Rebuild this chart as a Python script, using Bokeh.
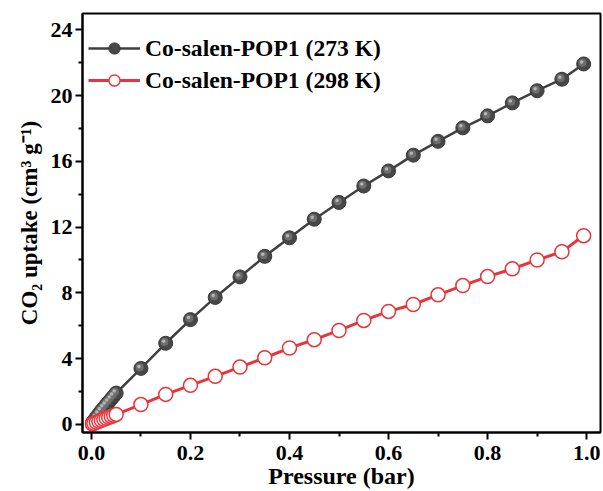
from bokeh.plotting import figure
from bokeh.models import FixedTicker, NumeralTickFormatter, Range1d, Legend, LegendItem
from bokeh.embed import file_html
from bokeh.resources import INLINE

# Data
p273 = [0.002, 0.005, 0.01, 0.015, 0.02, 0.025, 0.03, 0.035, 0.04, 0.045, 0.05,
        0.10, 0.15, 0.20, 0.25, 0.30, 0.35, 0.40, 0.45, 0.50, 0.55, 0.60, 0.65,
        0.70, 0.75, 0.80, 0.85, 0.90, 0.95, 0.994]
u273 = [0.08, 0.22, 0.42, 0.62, 0.82, 1.0, 1.18, 1.36, 1.54, 1.72, 1.9,
        3.4, 4.93, 6.37, 7.72, 8.97, 10.22, 11.35, 12.48, 13.5, 14.5, 15.42, 16.38,
        17.22, 18.04, 18.77, 19.56, 20.3, 21.0, 21.93]
p298 = [0.002, 0.005, 0.01, 0.015, 0.02, 0.025, 0.03, 0.035, 0.04, 0.045, 0.05,
        0.10, 0.15, 0.20, 0.25, 0.30, 0.35, 0.40, 0.45, 0.50, 0.55, 0.60, 0.65,
        0.70, 0.75, 0.80, 0.85, 0.90, 0.95, 0.994]
u298 = [0.02, 0.06, 0.12, 0.18, 0.24, 0.3, 0.36, 0.42, 0.48, 0.54, 0.6,
        1.2, 1.82, 2.37, 2.92, 3.48, 4.05, 4.64, 5.15, 5.71, 6.32, 6.87, 7.29,
        7.88, 8.44, 8.99, 9.46, 10.0, 10.5, 11.48]
labels = ["Co-salen-POP1 (273 K)", "Co-salen-POP1 (298 K)"]
x_ticks = [0.0, 0.2, 0.4, 0.6, 0.8, 1.0]
x_minor = [0.1, 0.3, 0.5, 0.7, 0.9]
y_ticks = [0, 4, 8, 12, 16, 20, 24]
y_minor = [2, 6, 10, 14, 18, 22]

FONT = "Liberation Serif"

p = figure(width=603, height=491, output_backend="svg", toolbar_location=None,
           x_range=Range1d(-0.018, 1.028), y_range=Range1d(-0.5, 25.0),
           min_border_left=82, min_border_right=3, min_border_top=13, min_border_bottom=59)
p.background_fill_color = "white"
p.border_fill_color = "white"
p.grid.visible = False
p.outline_line_color = "black"
p.outline_line_width = 2

# pixel -> data conversion for sphere highlights
px_x = (1.028 + 0.018) / 518.0
px_y = 25.5 / 419.0

l1 = p.line(p273, u273, line_color="#3f3f3f", line_width=2.5)
s1 = p.scatter(p273, u273, size=14, fill_color="#474747", line_color="#3a3a3a", line_width=1)
p.scatter([v - 1.2 * px_x for v in p273], [v + 1.2 * px_y for v in u273],
          size=8, fill_color="#6e6e6e", line_color=None)
p.scatter([v - 2.0 * px_x for v in p273], [v + 2.0 * px_y for v in u273],
          size=3.5, fill_color="#b5b5b5", line_color=None)

l2 = p.line(p298, u298, line_color="#e8353b", line_width=3)
s2 = p.scatter(p298, u298, size=14, fill_color="white", line_color="#e8353b", line_width=1.5)

legend = Legend(items=[LegendItem(label=labels[0], renderers=[l1, s1]),
                       LegendItem(label=labels[1], renderers=[l2, s2])],
                location=(6, 338), border_line_color=None, background_fill_alpha=0,
                padding=0, margin=0, spacing=4, glyph_width=52, glyph_height=28,
                label_height=28, label_standoff=5,
                label_text_font=FONT, label_text_font_style="bold",
                label_text_font_size="23.6px", label_text_color="black")
p.add_layout(legend, "center")

for ax in (p.xaxis[0], p.yaxis[0]):
    ax.axis_line_width = 2
    ax.axis_line_color = "black"
    ax.major_tick_line_width = 2
    ax.minor_tick_line_width = 2
    ax.major_tick_out = 7
    ax.major_tick_in = 0
    ax.minor_tick_out = 4
    ax.minor_tick_in = 0
    ax.major_label_text_font = FONT
    ax.major_label_text_font_style = "bold"
    ax.major_label_text_font_size = "22px"
    ax.major_label_text_color = "black"
    ax.axis_label_text_font = FONT
    ax.axis_label_text_font_style = "bold"
    ax.axis_label_text_font_size = "24px"
    ax.axis_label_text_color = "black"

p.xaxis[0].ticker = FixedTicker(ticks=x_ticks, minor_ticks=x_minor)
p.xaxis[0].formatter = NumeralTickFormatter(format="0.0")
p.xaxis[0].axis_label = "Pressure (bar)"
p.xaxis[0].axis_label_standoff = 0
p.xaxis[0].major_label_standoff = 6

p.yaxis[0].ticker = FixedTicker(ticks=y_ticks, minor_ticks=y_minor)
p.yaxis[0].axis_label = "CO₂ uptake (cm³ g⁻¹)"
p.yaxis[0].axis_label_text_font_size = "23px"
p.yaxis[0].axis_label_standoff = 6
p.yaxis[0].major_label_standoff = 3

open("out.html", "w").write(file_html(p, INLINE))
